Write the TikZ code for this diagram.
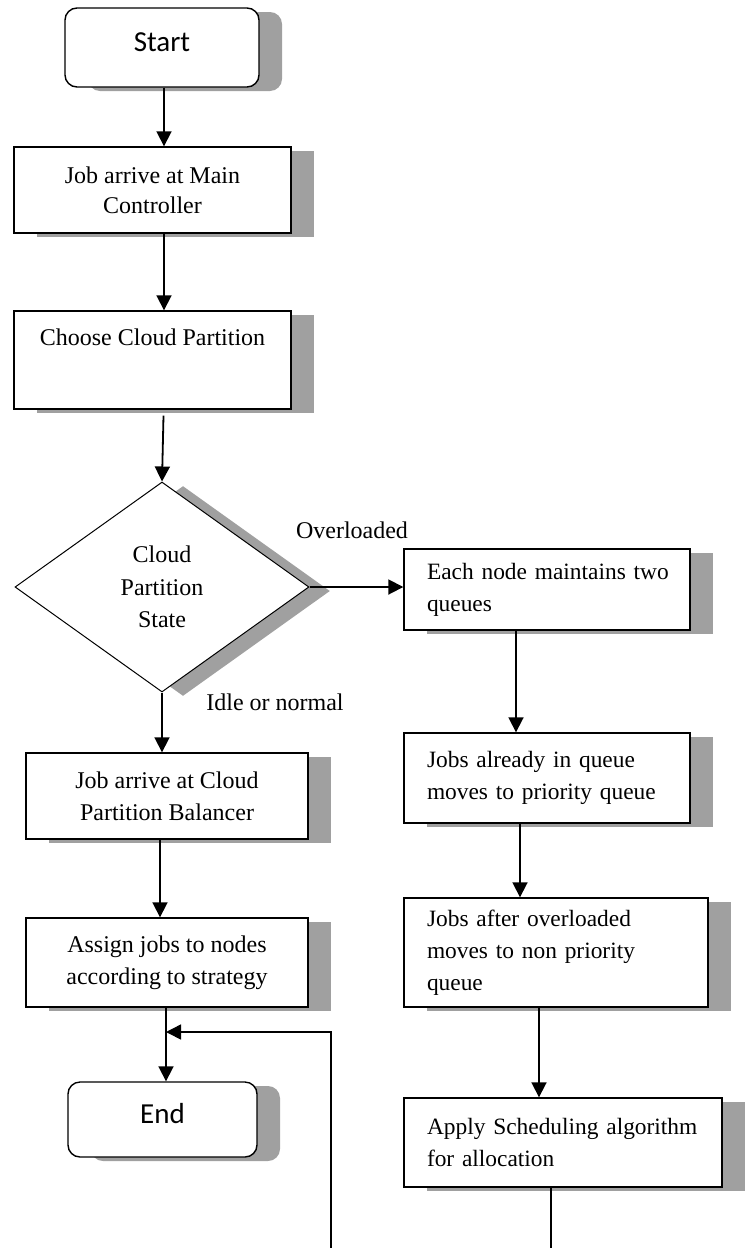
\documentclass[tikz,border=0pt]{standalone}
\usepackage{fontspec}
\setmainfont{Liberation Serif}
\newfontfamily\termfont{Carlito}
\usetikzlibrary{shapes.geometric,shadows,arrows.meta}
\definecolor{shgray}{HTML}{A0A0A0}
\tikzset{
  shd/.style={copy shadow={shadow xshift=23pt, shadow yshift=-4pt, draw=none, fill=shgray}},
  box/.style={shd, draw=black, fill=white, line width=1.4pt, rectangle, inner sep=0pt,
              font=\fontsize{24}{32}\selectfont, align=center},
  rbox/.style={shd, draw=black, fill=white, line width=1.4pt, rectangle, inner xsep=23pt, inner ysep=0pt,
              font=\fontsize{23.4}{32}\selectfont, align=left},
  term/.style={shd, draw=black, fill=white, line width=1.4pt, rectangle, rounded corners=12pt,
              inner sep=0pt, font=\termfont\fontsize{29}{34}\selectfont},
  decis/.style={copy shadow={shadow xshift=21pt, shadow yshift=-4pt, draw=none, fill=shgray},
              draw=black, fill=white, line width=1pt, diamond, shape aspect=1.4, inner sep=0pt,
              minimum width=294pt, minimum height=210pt, align=center,
              font=\fontsize{24}{32.5}\selectfont},
  arr/.style={line width=1.8pt, -{Triangle[length=15pt,width=15pt]}},
  lbl/.style={font=\fontsize{24}{30}\selectfont, inner sep=0pt},
  plain/.style={line width=1.5pt}
}
\begin{document}
\begin{tikzpicture}[x=1pt,y=-1pt]
\useasboundingbox (0,0) rectangle (746,1248);
% left column
\node[term, minimum width=194pt, minimum height=79pt] (start) at (162,47.5) {\raisebox{11pt}{Start}};
\node[box, minimum width=277pt, minimum height=86pt, font=\fontsize{24}{30}\selectfont] (job1) at (152.5,190) {Job arrive at Main\\Controller};
\node[box, minimum width=277pt, minimum height=98pt] (choose) at (152.5,360) {};
\node[lbl] (choosetxt) at (152.5,337) {Choose Cloud Partition};
\node[decis] (dia) at (162,587) {Cloud\\Partition\\State};
\node[box, minimum width=282pt, minimum height=86pt] (jobc) at (167,796) {Job arrive at Cloud\\Partition Balancer};
\node[box, minimum width=282pt, minimum height=89pt] (assign) at (167,962.5) {Assign jobs to nodes\\according to strategy};
\node[term, minimum width=189pt, minimum height=75pt] (end) at (162.5,1119.5) {\raisebox{13pt}{End}};
% right column
\node[rbox, text width=240pt, minimum height=81pt] (each) at (547,589.5) {\mbox{Each node maintains two}\\queues};
\node[rbox, text width=240pt, minimum height=90pt] (already) at (547,778) {\mbox{Jobs already in queue}\\\mbox{moves to priority queue}};
\node[rbox, text width=258pt, minimum height=109pt] (after) at (556,952.5) {\mbox{Jobs after overloaded}\\\mbox{moves to non priority}\\queue};
\node[rbox, text width=272pt, minimum height=89pt] (apply) at (563,1142.5) {\mbox{Apply Scheduling algorithm}\\for allocation};
% labels
\node[lbl] (over) at (352,530) {Overloaded};
\node[lbl] (idle) at (275,702) {Idle or normal};
% coordinates
\coordinate (c164) at (164,0);
\coordinate (c160) at (160,0);
\coordinate (c166) at (166,0);
\coordinate (c516) at (516,0);
\coordinate (c520) at (520,0);
\coordinate (c539) at (539,0);
\coordinate (c551) at (551,0);
\coordinate (bot1) at (551,1249);
\coordinate (bot2) at (331,1249);
\coordinate (turn) at (331,1032);
\coordinate (join) at (166,1032);
% connectors
\draw[arr] (start.south -| c164) -- (job1.north -| c164);
\draw[arr] (job1.south -| c164) -- (choose.north -| c164);
\draw[arr] ([shift={(11,6)}]choose.south) -- (dia.north);
\draw[arr] (dia.east) -- (dia.east -| each.west);
\draw[arr] (dia.south) -- (dia.south |- jobc.north);
\draw[arr] (jobc.south -| c160) -- (assign.north -| c160);
\draw[arr] (assign.south -| c166) -- (end.north -| c166);
\draw[arr] (each.south -| c516) -- (already.north -| c516);
\draw[arr] (already.south -| c520) -- (after.north -| c520);
\draw[arr] (after.south -| c539) -- (apply.north -| c539);
\draw[plain] (apply.south -| c551) -- (bot1);
\draw[plain, -{Triangle[length=15pt,width=15pt]}] (bot2) -- (turn) -- (join);
\end{tikzpicture}
\end{document}
